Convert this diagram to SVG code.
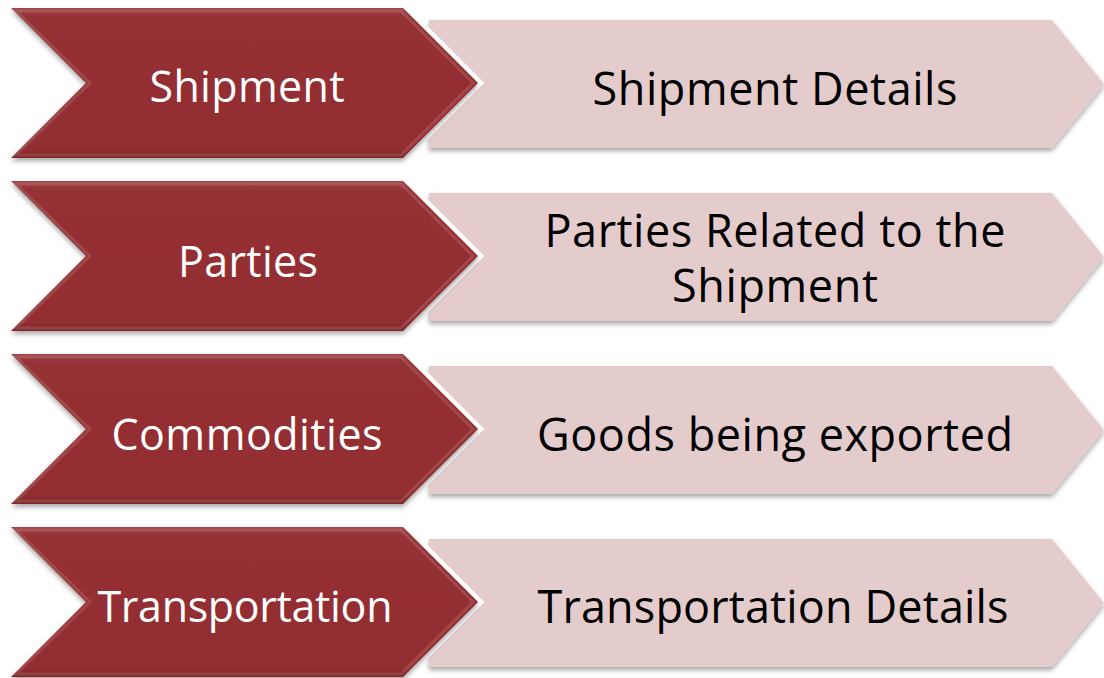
<svg xmlns="http://www.w3.org/2000/svg" width="1104" height="678" viewBox="0 0 1104 678">
<defs>
<filter id="sh" x="-5%" y="-10%" width="110%" height="125%">
<feDropShadow dx="0" dy="3" stdDeviation="2.5" flood-color="#000" flood-opacity="0.35"/>
</filter>
<linearGradient id="red" x1="0" y1="0" x2="0" y2="1">
<stop offset="0" stop-color="#a0464a"/>
<stop offset="0.06" stop-color="#953034"/>
<stop offset="0.94" stop-color="#922e31"/>
<stop offset="1" stop-color="#7e2528"/>
</linearGradient>
<polygon id="chev" points="11,8 403,8 478,83 403,158 11,158 86,83"/>
<polygon id="pent" points="429,20 1052,20 1104,84 1052,148 429,148"/>
</defs>
<style>
.pink{fill:#e4cccc;filter:url(#sh)}
.gap{fill:#fff;stroke:#fff;stroke-width:9;stroke-linejoin:miter}
.red{fill:url(#red);filter:url(#sh)}
.bev{fill:none;stroke:#ffffff;stroke-opacity:0.12;stroke-width:3}
.lt{font-family:"Open Sans",sans-serif;font-size:43px;fill:#ffffff;text-anchor:middle}
.rt{font-family:"Open Sans",sans-serif;font-size:45px;fill:#000000;text-anchor:middle}
</style>
<rect width="1104" height="678" fill="#ffffff"/>
<g id="connectors"/>
<g id="row1">
<use href="#pent" class="pink"/>
<use href="#chev" class="gap"/>
<use href="#chev" class="red"/>
<polygon class="bev" points="16,11 401,11 473,83 401,155 16,155 90,83"/>
<text class="lt" x="247" y="102" textLength="195">Shipment</text>
<text class="rt" x="775" y="105" textLength="365">Shipment Details</text>
</g>
<g id="row2" transform="translate(0,173)">
<use href="#pent" class="pink"/>
<use href="#chev" class="gap"/>
<use href="#chev" class="red"/>
<polygon class="bev" points="16,11 401,11 473,83 401,155 16,155 90,83"/>
<text class="lt" x="248" y="104" textLength="140">Parties</text>
<text class="rt" x="775" y="74" textLength="461">Parties Related to the</text>
<text class="rt" x="775" y="129" textLength="206">Shipment</text>
</g>
<g id="row3" transform="translate(0,346)">
<use href="#pent" class="pink"/>
<use href="#chev" class="gap"/>
<use href="#chev" class="red"/>
<polygon class="bev" points="16,11 401,11 473,83 401,155 16,155 90,83"/>
<text class="lt" x="247" y="104" textLength="271">Commodities</text>
<text class="rt" x="775" y="105" textLength="476">Goods being exported</text>
</g>
<g id="row4" transform="translate(0,519)">
<use href="#pent" class="pink"/>
<use href="#chev" class="gap"/>
<use href="#chev" class="red"/>
<polygon class="bev" points="16,11 401,11 473,83 401,155 16,155 90,83"/>
<text class="lt" x="245" y="103" textLength="295">Transportation</text>
<text class="rt" x="773" y="104" textLength="471">Transportation Details</text>
</g>
</svg>
